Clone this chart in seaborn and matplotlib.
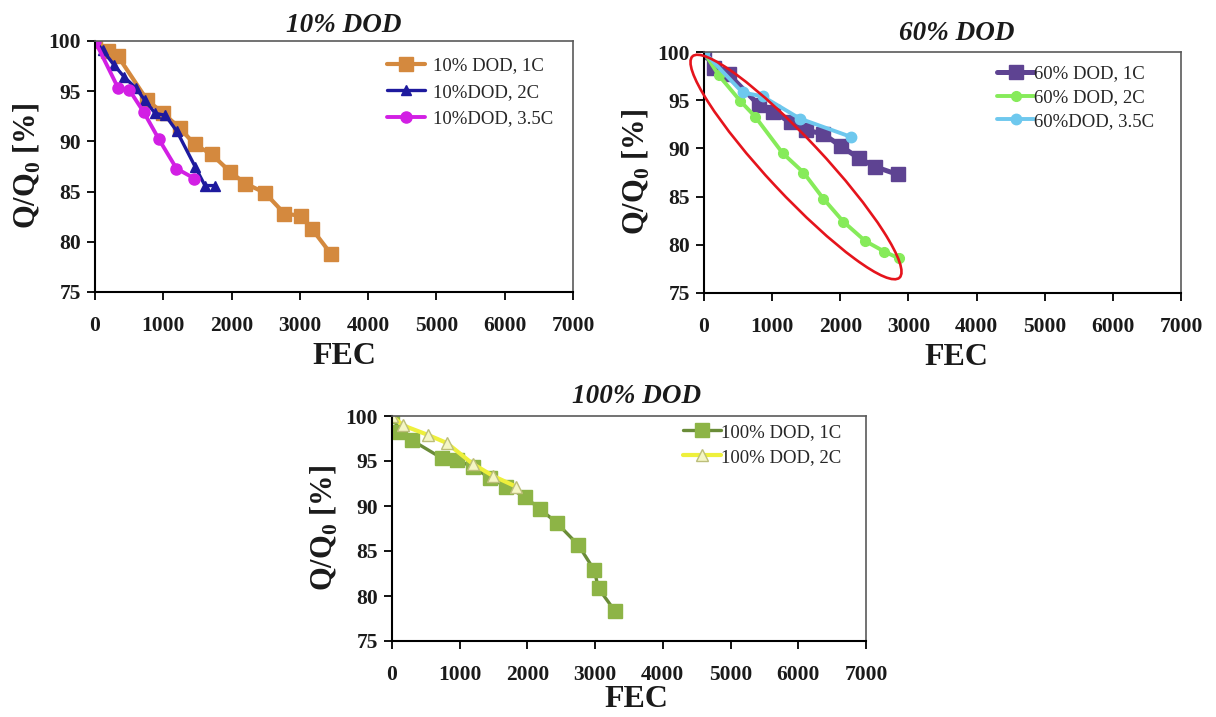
import matplotlib
matplotlib.use("Agg")
import matplotlib.pyplot as plt
from matplotlib.patches import Ellipse
from matplotlib.transforms import IdentityTransform
import seaborn as sns

# ---- capacity fade data: full equivalent cycles (FEC) vs. Q/Q0 [%] ----
# 10 % depth of discharge
fec_10_1c = [0, 190, 335, 765, 1000, 1245, 1460, 1710, 1975, 2200, 2485, 2775, 3010, 3175, 3455]
q_10_1c = [100, 99.0, 98.5, 94.1, 92.8, 91.3, 89.7, 88.7, 87.0, 85.8, 84.9, 82.8, 82.6, 81.3, 78.8]
fec_10_2c = [0, 110, 280, 430, 600, 730, 880, 1030, 1200, 1465, 1610, 1760]
q_10_2c = [100, 99.1, 97.6, 96.4, 95.3, 94.1, 92.8, 92.6, 91.0, 87.5, 85.6, 85.6]
fec_10_35c = [0, 340, 505, 715, 937, 1193, 1457]
q_10_35c = [100, 95.3, 95.1, 92.9, 90.2, 87.3, 86.3]

# 60 % depth of discharge
fec_60_1c = [0, 150, 360, 805, 1015, 1270, 1495, 1750, 2015, 2270, 2510, 2840]
q_60_1c = [100, 98.3, 97.7, 94.5, 93.8, 92.7, 91.9, 91.5, 90.2, 89.0, 88.1, 87.3]
fec_60_2c = [0, 215, 535, 750, 1155, 1460, 1750, 2045, 2365, 2645, 2860]
q_60_2c = [100, 97.6, 94.9, 93.3, 89.5, 87.5, 84.8, 82.4, 80.4, 79.3, 78.6]
fec_60_35c = [0, 565, 860, 1405, 2155]
q_60_35c = [100, 95.8, 95.4, 93.1, 91.2]

# 100 % depth of discharge
fec_100_1c = [0, 125, 295, 740, 960, 1190, 1450, 1690, 1965, 2188, 2430, 2753, 2985, 3050, 3290]
q_100_1c = [100, 98.2, 97.3, 95.3, 95.1, 94.35, 93.1, 92.15, 91.0, 89.65, 88.15, 85.65, 82.9, 80.85, 78.35]
fec_100_2c = [0, 165, 530, 810, 1190, 1490, 1833]
q_100_2c = [100, 98.95, 97.9, 97.0, 94.7, 93.35, 92.15]

panel_titles = ["10% DOD", "60% DOD", "100% DOD"]
x_ticks = list(range(0, 7001, 1000))
y_ticks = list(range(75, 101, 5))

sns.set_style("ticks")
plt.rcParams["font.family"] = ["Liberation Serif", "DejaVu Serif"]
plt.rcParams["mathtext.fontset"] = "custom"
plt.rcParams["mathtext.rm"] = "Liberation Serif"
plt.rcParams["mathtext.bf"] = "Liberation Serif:bold"

W, H = 1216, 717
fig = plt.figure(figsize=(W / 100, H / 100), dpi=100)
fig.patch.set_facecolor("white")


def px_axes(left, top, right, bottom):
    return fig.add_axes([left / W, 1 - bottom / H, (right - left) / W, (bottom - top) / H])


ax1 = px_axes(95, 41, 573, 292)
ax2 = px_axes(704, 52, 1181, 293)
ax3 = px_axes(392, 416, 866, 641)


def series(ax, x, y, label, color, marker, ms, lw, mfc=None, mec=None, mew=1.0):
    sns.lineplot(x=x, y=y, ax=ax, label=label, color=color, marker=marker,
                 markersize=ms, linewidth=lw, sort=False, estimator=None,
                 markerfacecolor=mfc if mfc else color,
                 markeredgecolor=mec if mec else color, markeredgewidth=mew)


def style(ax, title, title_x, title_gap, xlabel_drop, leg_xy, textpad, spacing):
    ax.set_xlim(0, 7000)
    ax.set_ylim(75, 100)
    ax.set_xticks(x_ticks)
    ax.set_yticks(y_ticks)
    ax.set_facecolor("white")
    ax.grid(False)
    bb = ax.get_position()
    w_px, h_px = bb.width * W, bb.height * H
    ax.tick_params(direction="out", length=6, width=1.3, color="black",
                   labelsize=15.5, labelcolor="#1a1a1a")
    ax.tick_params(axis="x", pad=11.5)
    ax.tick_params(axis="y", pad=4)
    plt.setp(ax.get_xticklabels() + ax.get_yticklabels(), fontweight="bold")
    for side in ("left", "bottom"):
        ax.spines[side].set_color("black")
        ax.spines[side].set_linewidth(1.5)
    for side in ("top", "right"):
        ax.spines[side].set_color("#5a5a5a")
        ax.spines[side].set_linewidth(1.2)
    ax.set_xlabel("FEC", fontsize=23, fontweight="bold", color="#1a1a1a")
    ax.xaxis.set_label_coords(title_x, -xlabel_drop / h_px)
    ax.set_ylabel(r"Q/Q$_{\mathbf{0}}$ [%]", fontsize=22, fontweight="bold", color="#1a1a1a")
    ax.yaxis.set_label_coords(-52 / w_px, 0.5)
    ax.text(title_x, 1 + title_gap / h_px, title, transform=ax.transAxes,
            ha="center", va="baseline", fontsize=19.5, fontweight="bold",
            fontstyle="italic", color="#1a1a1a")
    ax.legend(loc="upper left", bbox_to_anchor=leg_xy, frameon=False,
              fontsize=13.5, handlelength=2.0, handletextpad=textpad,
              labelspacing=spacing, borderpad=0, borderaxespad=0)


# 10 % DOD
series(ax1, fec_10_1c, q_10_1c, "10% DOD, 1C", "#D4893E", "s", 9.5, 3.0)
series(ax1, fec_10_2c, q_10_2c, "10%DOD, 2C", "#1E1A9E", "^", 7, 2.4)
series(ax1, fec_10_35c, q_10_35c, "10%DOD, 3.5C", "#D21FE4", "o", 8, 2.8)
style(ax1, panel_titles[0], 0.521, 9, 50, (0.611, 0.935), 0.45, 0.5)

# 60 % DOD
series(ax2, fec_60_1c, q_60_1c, "60% DOD, 1C", "#5E4392", "s", 9.5, 3.6)
series(ax2, fec_60_2c, q_60_2c, "60% DOD, 2C", "#86EB5A", "o", 7, 2.8)
series(ax2, fec_60_35c, q_60_35c, "60%DOD, 3.5C", "#6EC8EE", "o", 7.5, 2.8)
style(ax2, panel_titles[1], 0.53, 12, 50, (0.614, 0.945), 0.0, 0.35)

# 100 % DOD
series(ax3, fec_100_1c, q_100_1c, "100% DOD, 1C", "#6A8C38", "s", 9.5, 2.4,
       mfc="#8DB446", mec="#8DB446")
series(ax3, fec_100_2c, q_100_2c, "100% DOD, 2C", "#EEF03C", "^", 8, 3.0,
       mfc="#F4F6C4", mec="#BCBE7A", mew=1.0)
style(ax3, panel_titles[2], 0.515, 13, 44, (0.614, 0.965), 0.0, 0.4)

# red ellipse highlighting the 60 % DOD, 2C fade curve
ell_center = (1350, 88.07)
fig.canvas.draw()
cx, cy = ax2.transData.transform(ell_center)
ax2.add_patch(Ellipse((cx, cy), width=303, height=56, angle=-46.9,
                      transform=IdentityTransform(), fill=False,
                      edgecolor="#E5141C", linewidth=1.9, zorder=5, clip_on=False))

fig.savefig("out.png", dpi=100, facecolor="white")
